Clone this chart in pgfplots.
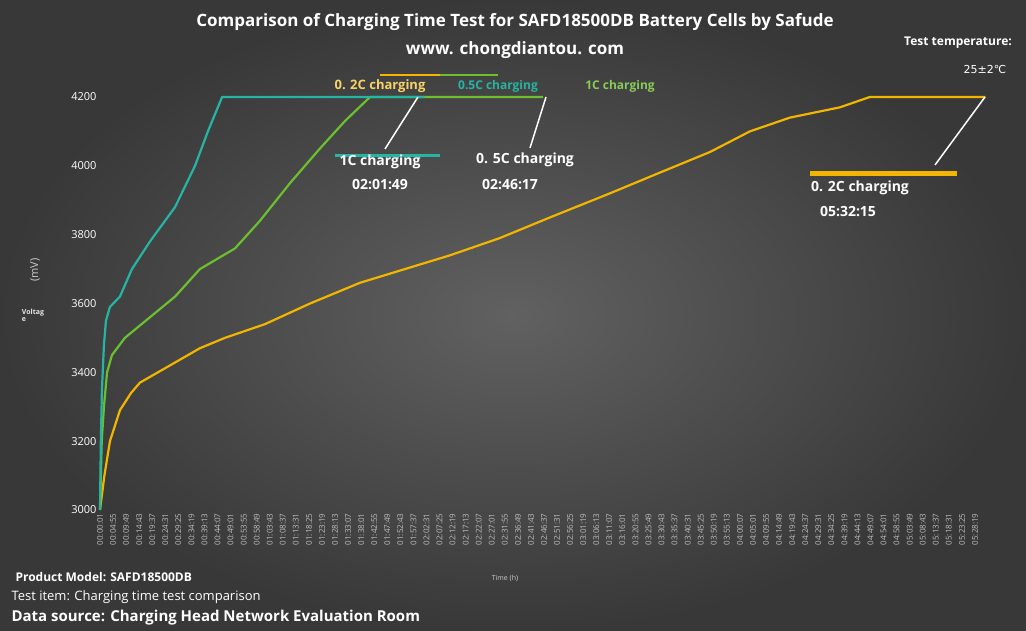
\documentclass[border=0pt]{standalone}
\usepackage{pgfplots}
\pgfplotsset{compat=1.18}
\usepackage{fontspec}
\setmainfont{Open Sans}
\newfontfamily\dv{DejaVu Sans}
\definecolor{cT}{HTML}{26B5A5}
\definecolor{cG}{HTML}{6CBF2E}
\definecolor{cY}{HTML}{F2B600}
\newcommand\fs[1]{\fontsize{#1}{#1}\selectfont}
\begin{document}
\begin{tikzpicture}[x=1pt,y=1pt]
\shade[inner color=black!62,outer color=black!78] (0,0) rectangle (1026,631);
\begin{axis}[at={(100pt,121pt)},anchor=origin,scale only axis,width=875pt,height=413pt,
 xmin=1,xmax=19699,ymin=3000,ymax=4200,clip=false,scaled x ticks=false,
 axis line style={draw=none},x axis line style={draw=black!45},
 ytick={3000,3200,...,4200},
 yticklabel style={white,font=\fs{11}},
 /pgf/number format/assume math mode=true,
 /pgf/number format/1000 sep={},
 xtick={1,295,...,19699},
 major tick length=0pt,
 xticklabels={00:00:01,00:04:55,00:09:49,00:14:43,00:19:37,00:24:31,00:29:25,00:34:19,00:39:13,00:44:07,00:49:01,00:53:55,00:58:49,01:03:43,01:08:37,01:13:31,01:18:25,01:23:19,01:28:13,01:33:07,01:38:01,01:42:55,01:47:49,01:52:43,01:57:37,02:02:31,02:07:25,02:12:19,02:17:13,02:22:07,02:27:01,02:31:55,02:36:49,02:41:43,02:46:37,02:51:31,02:56:25,03:01:19,03:06:13,03:11:07,03:16:01,03:20:55,03:25:49,03:30:43,03:35:37,03:40:31,03:45:25,03:50:19,03:55:13,04:00:07,04:05:01,04:09:55,04:14:49,04:19:43,04:24:37,04:29:31,04:34:25,04:39:19,04:44:13,04:49:07,04:54:01,04:58:55,05:03:49,05:08:43,05:13:37,05:18:31,05:23:25,05:28:19},
 xticklabel style={rotate=90,anchor=east,font=\fs{8},text=black!25},
 ]
\addplot[cY,line width=2.2pt,line join=round] coordinates {(1,3000)(100,3100)(225,3200)(450,3290)(700,3340)(900,3370)(1575,3420)(2250,3470)(2810,3500)(3715,3540)(4730,3600)(5850,3660)(6865,3700)(7880,3740)(9000,3790)(10130,3850)(11480,3920)(12600,3980)(13730,4040)(14630,4100)(15530,4140)(16660,4170)(17330,4200)(19935,4200)};
\addplot[cG,line width=2.2pt,line join=round] coordinates {(1,3000)(40,3200)(90,3300)(160,3400)(270,3450)(560,3500)(1125,3560)(1690,3620)(2250,3700)(3040,3760)(3600,3840)(4280,3950)(4950,4050)(5515,4130)(6080,4200)(9977,4200)};
\addplot[cT,line width=2.2pt,line join=round] coordinates {(1,3000)(20,3200)(45,3350)(90,3480)(135,3550)(225,3590)(450,3620)(720,3700)(1125,3780)(1690,3880)(2140,4000)(2430,4100)(2750,4200)(7309,4200)};
\end{axis}
\begin{scope}[every node/.style={font=\bfseries\fs{14},text=white}]
\node[font=\bfseries\fs{17}] at (515,609) {Comparison of Charging Time Test for SAFD18500DB Battery Cells by Safude};
\node[font=\bfseries\fs{17}] at (515,581) {www. chongdiantou. com};
\node[font=\bfseries\fs{12}] at (958,588) {Test temperature:};
\node[font=\dv\fs{11}] at (985,561) {25±2℃};
\node[font=\fs{11},text=black!20,rotate=90] at (35,361) {(mV)};
\node[font=\bfseries\fs{7},text=black!10,align=left] at (33,316) {Voltag\\e};
\node[font=\fs{7},text=black!20] at (505,53) {Time (h)};
\node[anchor=west,font=\bfseries\fs{12}] at (12,54) {Product Model: SAFD18500DB};
\node[anchor=west,font=\fs{13}] at (8,34) {Test item: Charging time test comparison};
\node[anchor=west,font=\bfseries\fs{15}] at (8,13) {Data source: Charging Head Network Evaluation Room};
\node[font=\bfseries\fs{13},text=cY!60!white] at (380,545) {0. 2C charging};
\draw[cY,line width=2pt] (380,556)--(440,556);
\draw[cG,line width=2pt] (440,556)--(498,556);
\node[font=\bfseries\fs{12},text=cT] at (498,545) {0.5C charging};
\node[font=\bfseries\fs{12},text=cG!80!white] at (620,545) {1C charging};
\fill[cT] (335,477) rectangle (440,474);
\node at (380,469) {1C charging};
\node at (380,446) {02:01:49};
\draw[white,line width=1.5pt] (385,482)--(418,534);
\node at (525,471) {0. 5C charging};
\node at (510,446) {02:46:17};
\draw[white,line width=1.5pt] (530,483)--(546,534);
\fill[cY] (810,460) rectangle (957,455);
\node at (860,443) {0. 2C charging};
\node at (848,419) {05:32:15};
\draw[white,line width=1.5pt] (935,466)--(985,534);
\end{scope}
\end{tikzpicture}
\end{document}
